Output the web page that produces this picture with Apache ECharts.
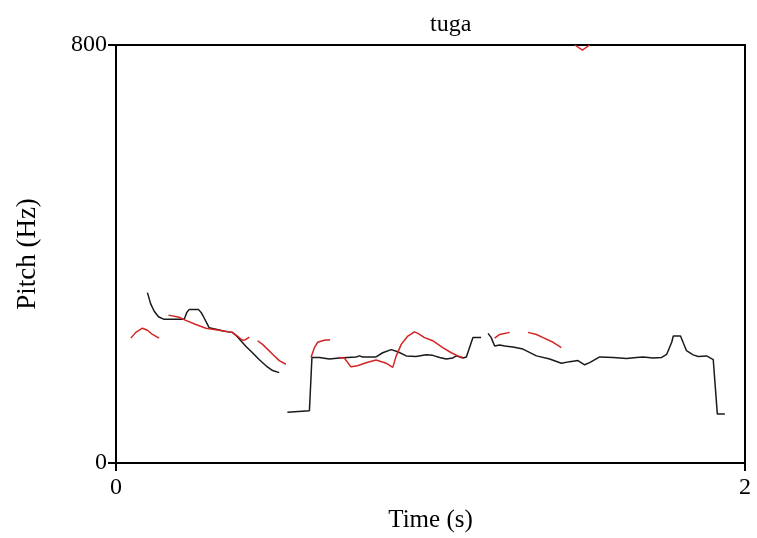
<!DOCTYPE html>
<html>
<head>
<meta charset="utf-8">
<title>tuga</title>
<script src="https://cdn.jsdelivr.net/npm/echarts@6/dist/echarts.min.js"></script>
<style>
  html, body { margin: 0; padding: 0; background: #fff; }
  #chart { width: 757px; height: 538px; }
</style>
</head>
<body>
<div id="chart"></div>
<script>
// Pitch track (black). null in the Hz list marks an unvoiced gap.
const pitchTime = [
  0.100, 0.110, 0.121, 0.135, 0.153, 0.185, 0.217, 0.225, 0.233, 0.262, 0.272, 0.280, 0.296, 0.318, 0.345, 0.370, 0.385, 0.397, 0.415, 0.434, 0.455, 0.477, 0.498, 0.519,
  0.520,
  0.545, 0.615, 0.623, 0.647, 0.678, 0.710, 0.763, 0.774, 0.784, 0.827, 0.848, 0.875, 0.896, 0.923, 0.954, 0.986, 1.007, 1.029, 1.050, 1.071, 1.082, 1.103, 1.114, 1.135, 1.161,
  1.170,
  1.183, 1.193, 1.204, 1.220, 1.236, 1.262, 1.294, 1.337, 1.379, 1.416, 1.443, 1.469, 1.490, 1.506, 1.538, 1.581, 1.623, 1.655, 1.676, 1.708, 1.735, 1.751, 1.767, 1.772, 1.795, 1.803, 1.814, 1.835, 1.851, 1.878, 1.899, 1.912, 1.936
];
const pitchHz = [
  326, 305, 291, 280, 275, 275, 275, 288, 294, 294, 287, 278, 259, 256, 252, 250, 242, 234, 222, 211, 198, 186, 177, 173,
  null,
  97, 100, 202, 202, 199, 201, 203, 205, 203, 203, 211, 217, 213, 205, 204, 207, 206, 202, 199, 201, 205, 201, 203, 240, 240,
  null,
  248, 240, 224, 226, 224, 222, 218, 205, 199, 191, 194, 196, 188, 192, 203, 202, 200, 202, 203, 201, 202, 208, 231, 243, 243, 231, 215, 207, 204, 205, 198, 94, 94
];

// Second pitch estimate (red), drawn in short voiced stretches.
const refTime = [
  0.047, 0.063, 0.084, 0.100, 0.116, 0.137,
  0.150,
  0.167, 0.201, 0.222, 0.254, 0.286, 0.328, 0.370, 0.386, 0.402, 0.412, 0.424,
  0.440,
  0.450, 0.466, 0.498, 0.519, 0.540,
  0.580,
  0.620, 0.631, 0.641, 0.662, 0.681,
  0.695,
  0.708, 0.726, 0.747, 0.768, 0.795, 0.827, 0.859, 0.880, 0.891, 0.907, 0.928, 0.949, 0.960, 0.981, 1.007, 1.039, 1.066, 1.087, 1.103,
  1.150,
  1.204, 1.220, 1.252,
  1.280,
  1.310, 1.337, 1.358, 1.390, 1.416,
  1.440,
  1.459, 1.483, 1.506
];
const refHz = [
  239, 250, 258, 254, 246, 239,
  null,
  283, 279, 273, 265, 258, 254, 250, 243, 235, 236, 241,
  null,
  234, 227, 208, 196, 189,
  null,
  202, 221, 231, 235, 236,
  null,
  202, 201, 184, 186, 192, 197, 191, 183, 205, 227, 243, 251, 248, 240, 234, 221, 211, 205, 202,
  null,
  239, 246, 250,
  null,
  250, 246, 240, 231, 221,
  null,
  800, 790, 800
];

const timeTicks = [0, 2];
const hzTicks = [0, 800];

function toPairs(ts, vs) {
  return ts.map((t, i) => [t, vs[i] === null ? '-' : vs[i]]);
}

const serifFont = "'Liberation Serif', 'Times New Roman', 'DejaVu Serif', serif";

const chart = echarts.init(document.getElementById('chart'), null, { renderer: 'canvas' });

chart.setOption({
  animation: false,
  backgroundColor: '#ffffff',
  title: {
    text: 'tuga',
    left: 430,
    top: 13,
    padding: 0,
    textStyle: { fontFamily: serifFont, fontSize: 24, fontWeight: 'normal', color: '#000' }
  },
  grid: {
    left: 116,
    right: 12,
    top: 45,
    bottom: 71,
    show: true,
    borderColor: '#000',
    borderWidth: 2,
    backgroundColor: 'transparent'
  },
  xAxis: {
    type: 'value',
    min: timeTicks[0],
    max: timeTicks[timeTicks.length - 1],
    interval: timeTicks[1] - timeTicks[0],
    name: 'Time (s)',
    nameLocation: 'middle',
    nameGap: 45,
    nameTextStyle: { fontFamily: serifFont, fontSize: 25, color: '#000' },
    axisLine: { show: true, lineStyle: { color: '#000', width: 2 } },
    axisTick: { show: true, length: 8, inside: false, lineStyle: { color: '#000', width: 2 } },
    axisLabel: { fontFamily: serifFont, fontSize: 24, color: '#000', margin: 13 },
    splitLine: { show: false }
  },
  yAxis: {
    type: 'value',
    min: hzTicks[0],
    max: hzTicks[hzTicks.length - 1],
    interval: hzTicks[1] - hzTicks[0],
    name: 'Pitch (Hz)',
    nameLocation: 'middle',
    nameGap: 75,
    nameTextStyle: { fontFamily: serifFont, fontSize: 27, color: '#000' },
    axisLine: { show: true, lineStyle: { color: '#000', width: 2 } },
    axisTick: { show: true, length: 8, inside: false, lineStyle: { color: '#000', width: 2 } },
    axisLabel: { fontFamily: serifFont, fontSize: 24, color: '#000', margin: 9 },
    splitLine: { show: false }
  },
  series: [
    {
      name: 'pitch',
      type: 'line',
      data: toPairs(pitchTime, pitchHz),
      showSymbol: false,
      connectNulls: false,
      clip: true,
      lineStyle: { color: '#1a1a1a', width: 1.5 },
      z: 3
    },
    {
      name: 'reference',
      type: 'line',
      data: toPairs(refTime, refHz),
      showSymbol: false,
      connectNulls: false,
      clip: true,
      lineStyle: { color: '#d42424', width: 1.5 },
      z: 4
    }
  ]
});
</script>
</body>
</html>
